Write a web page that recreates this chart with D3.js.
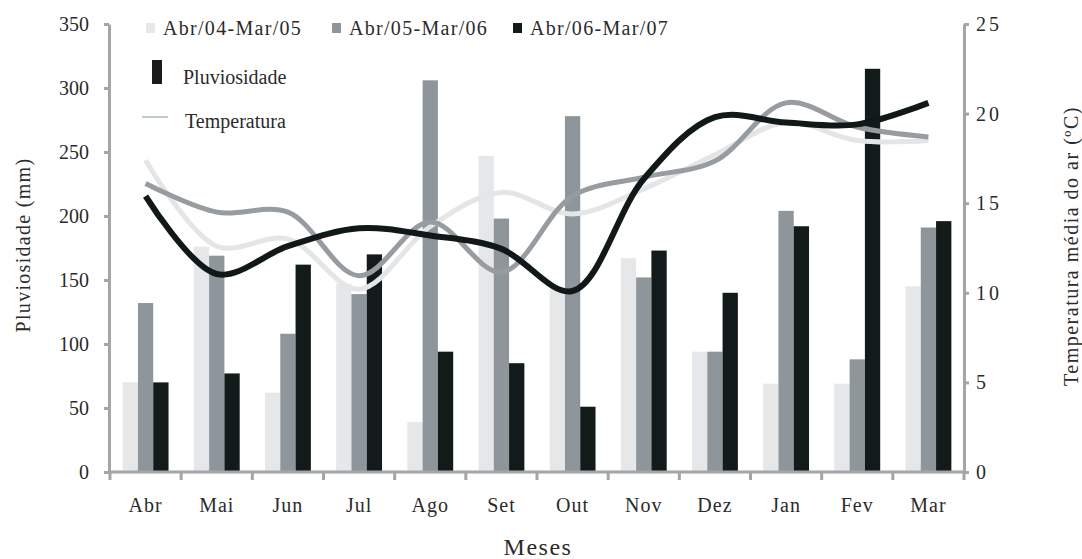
<!DOCTYPE html>
<html>
<head>
<meta charset="utf-8">
<script src="https://cdn.jsdelivr.net/npm/d3@7"></script>
<style>
  body { margin: 0; background: #fff; }
  text { font-family: "Liberation Serif", "DejaVu Serif", serif; fill: #2b2b2b; }
</style>
</head>
<body>
<svg id="chart" width="1082" height="559"></svg>
<script>
// data
var months = ["Abr", "Mai", "Jun", "Jul", "Ago", "Set", "Out", "Nov", "Dez", "Jan", "Fev", "Mar"];
var seriesNames = ["Abr/04-Mar/05", "Abr/05-Mar/06", "Abr/06-Mar/07"];

// rainfall (mm)
var rain0405 = [70, 176, 62, 147, 39, 247, 143, 167, 94, 69, 69, 145];
var rain0506 = [132, 169, 108, 139, 306, 198, 278, 152, 94, 204, 88, 191];
var rain0607 = [70, 77, 162, 170, 94, 85, 51, 173, 140, 192, 315, 196];

// mean air temperature (C)
var temp0405 = [17.4, 12.6, 13.0, 10.2, 13.7, 15.6, 14.4, 15.8, 17.7, 19.5, 18.5, 18.5];
var temp0506 = [16.1, 14.5, 14.5, 10.95, 13.95, 11.15, 15.4, 16.45, 17.35, 20.6, 19.25, 18.7];
var temp0607 = [15.4, 11.05, 12.6, 13.6, 13.2, 12.45, 10.1, 16.35, 19.8, 19.5, 19.4, 20.6];

var leftTicks = [0, 50, 100, 150, 200, 250, 300, 350];
var rightTicks = [0, 5, 10, 15, 20, 25];

var barColors = ["#e6e7e9", "#8f969b", "#131b1a"];
var lineColors = ["#e3e5e7", "#979ca0", "#111918"];
var axisColor = "#a2a6a9";

var rain = [rain0405, rain0506, rain0607];
var temp = [temp0405, temp0506, temp0607];

var svg = d3.select("#chart");

var x0 = 109, x1 = 964, yTop = 24, yBot = 472;

var xMonth = d3.scaleBand().domain(months).range([x0 + 1, x1]).padding(0);
var bw = xMonth.bandwidth();
var groupW = bw * 0.645;
var xSub = d3.scaleBand().domain(seriesNames).range([0, groupW]).padding(0);

var yL = d3.scaleLinear().domain([0, 350]).range([yBot, yTop]);
var yR = d3.scaleLinear().domain([0, 25]).range([yBot, yTop]);

// bars
seriesNames.forEach(function (s, si) {
  svg.append("g").selectAll("rect")
    .data(rain[si])
    .enter()
    .append("rect")
    .attr("x", function (d, i) { return xMonth(months[i]) + (bw - groupW) / 2 + xSub(s); })
    .attr("y", function (d) { return yL(d); })
    .attr("width", xSub.bandwidth())
    .attr("height", function (d) { return yBot - yL(d); })
    .style("fill", barColors[si]);
});

// temperature lines
var line = d3.line()
  .x(function (d, i) { return xMonth(months[i]) + bw / 2; })
  .y(function (d) { return yR(d); })
  .curve(d3.curveCatmullRom.alpha(0.5));

var lineWidths = [5, 5, 6];
seriesNames.forEach(function (s, si) {
  svg.append("path")
    .datum(temp[si])
    .attr("d", line)
    .style("fill", "none")
    .style("stroke", lineColors[si])
    .style("stroke-width", lineWidths[si])
    .style("stroke-linejoin", "round");
});

// left axis
var gL = svg.append("g")
  .attr("transform", "translate(" + x0 + ",0)")
  .call(d3.axisLeft(yL).tickValues(leftTicks).tickSize(5).tickSizeOuter(0).tickPadding(15));
gL.selectAll("text").style("font-size", "20px").attr("font-family", null);

// right axis
var gR = svg.append("g")
  .attr("transform", "translate(" + x1 + ",0)")
  .call(d3.axisRight(yR).tickValues(rightTicks).tickSize(5).tickSizeOuter(0).tickPadding(7));
gR.selectAll("text").style("font-size", "20px").style("letter-spacing", "3px").attr("font-family", null);

// x axis: labels centred, ticks on band edges
var gX = svg.append("g")
  .attr("transform", "translate(0," + yBot + ")")
  .call(d3.axisBottom(xMonth).tickSize(0).tickPadding(26));
gX.select(".domain").attr("d", "M" + x0 + ",0H" + x1);
gX.selectAll("text").style("font-size", "20px").style("letter-spacing", "1px").attr("font-family", null);
gX.selectAll("line.edge")
  .data(months.concat(["end"]))
  .enter()
  .append("line")
  .attr("class", "edge")
  .attr("x1", function (d, i) { return i < months.length ? xMonth(d) : x1; })
  .attr("x2", function (d, i) { return i < months.length ? xMonth(d) : x1; })
  .attr("y1", 0)
  .attr("y2", 8);

[gL, gR, gX].forEach(function (g) {
  g.selectAll(".domain, line").style("stroke", axisColor).style("stroke-width", 3);
});

// axis titles
svg.append("text")
  .attr("text-anchor", "middle")
  .attr("transform", "translate(30,245) rotate(-90)")
  .style("font-size", "20px")
  .style("letter-spacing", "1.3px")
  .text("Pluviosidade (mm)");

svg.append("text")
  .attr("text-anchor", "middle")
  .attr("transform", "translate(1078,246) rotate(-90)")
  .style("font-size", "20px")
  .style("letter-spacing", "1.5px")
  .text("Temperatura média do ar (ºC)");

svg.append("text")
  .attr("text-anchor", "middle")
  .attr("x", 538)
  .attr("y", 555)
  .style("font-size", "24px")
  .style("letter-spacing", "1.5px")
  .text("Meses");

// legend
var legX = [146, 332, 513];
seriesNames.forEach(function (s, si) {
  svg.append("rect").attr("x", legX[si]).attr("y", 23).attr("width", 9).attr("height", 10).style("fill", barColors[si]);
  svg.append("text").attr("x", legX[si] + 17).attr("y", 35).style("font-size", "20px").style("letter-spacing", "1.3px").text(s);
});
svg.append("rect").attr("x", 152).attr("y", 60).attr("width", 10).attr("height", 24).style("fill", "#1c1a1a");
svg.append("text").attr("x", 183).attr("y", 84).style("font-size", "20px").text("Pluviosidade");
svg.append("line").attr("x1", 142).attr("x2", 168).attr("y1", 117).attr("y2", 117).style("stroke", "#a9b9c9").style("stroke-width", 1.5);
svg.append("text").attr("x", 185).attr("y", 128).style("font-size", "20px").text("Temperatura");
</script>
</body>
</html>
